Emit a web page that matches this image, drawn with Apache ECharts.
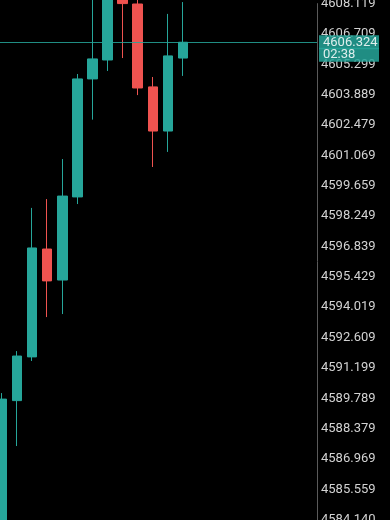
<!DOCTYPE html>
<html><head><meta charset="utf-8">
<script src="https://cdn.jsdelivr.net/npm/echarts@6/dist/echarts.min.js"></script>
<style>html,body{margin:0;padding:0;background:#000}#c{width:390px;height:520px}</style>
</head><body><div id="c"></div>
<script>
// ---- data ----
const slots  = [0, 1, 2, 3, 4, 5, 6, 7, 8, 9, 10, 11, 12];
const opens  = [4583.30, 4589.68, 4591.71, 4596.72, 4595.28, 4599.14, 4604.62, 4605.50, 4608.90, 4608.10, 4604.25, 4602.20, 4605.59];
const closes = [4589.75, 4591.75, 4596.77, 4595.24, 4599.18, 4604.62, 4605.55, 4608.98, 4608.12, 4604.20, 4602.20, 4605.69, 4606.324];
const lows   = [4582.90, 4587.57, 4591.52, 4593.56, 4593.70, 4598.81, 4602.73, 4604.99, 4605.59, 4603.87, 4600.53, 4601.23, 4604.76];
const highs  = [4590.03, 4591.98, 4598.63, 4599.04, 4600.90, 4604.85, 4608.70, 4609.45, 4609.60, 4608.43, 4604.71, 4607.64, 4608.19];
const yTickLabels = ['4584.140','4585.559','4586.969','4588.379','4589.789','4591.199','4592.609','4594.019','4595.429','4596.839','4598.249','4599.659','4601.069','4602.479','4603.889','4605.299','4606.709','4608.119'];
const currentPrice = 4606.324;
const countdown = '02:38';

// ---- axis range ----
const yMin = 4584.149, yMax = 4608.119, yStep = 1.41;
const xMin = -0.126, xMax = 20.881;

const UP = '#26a69a', DOWN = '#ef5350';
const yTickValues = yTickLabels.map(parseFloat);

const candleData = slots.map((s, i) => [s, opens[i], closes[i], lows[i], highs[i]]);

const chart = echarts.init(document.getElementById('c'), null, {renderer: 'canvas'});
chart.setOption({
  animation: false,
  backgroundColor: '#000',
  grid: {left: 0, right: 73, top: 3.6, bottom: 0.3, containLabel: false, outerBoundsMode: 'none'},
  xAxis: {type: 'value', min: xMin, max: xMax, show: false},
  yAxis: {
    type: 'value', position: 'right', min: yMin, max: yMax, interval: yStep, scale: true,
    axisLine: {show: true, onZero: false, lineStyle: {color: '#5a5a5a', width: 1}},
    axisTick: {show: false},
    splitLine: {show: false},
    axisLabel: {
      margin: 4, color: '#d2d2d2', fontFamily: 'Roboto', fontSize: 13,
      showMinLabel: true, showMaxLabel: true, hideOverlap: false,
      formatter: function (v) {
        let best = 0, d = Infinity;
        yTickValues.forEach((t, i) => { const dd = Math.abs(t - v); if (dd < d) { d = dd; best = i; } });
        return yTickLabels[best];
      }
    }
  },
  series: [{
    type: 'candlestick',
    clip: false,
    barWidth: 10,
    dimensions: ['x', 'open', 'close', 'lowest', 'highest'],
    encode: {x: 'x', y: ['open', 'close', 'lowest', 'highest']},
    data: candleData,
    itemStyle: {color: UP, color0: DOWN, borderColor: UP, borderColor0: DOWN, borderWidth: 1},
    markLine: {
      silent: true,
      animation: false,
      symbol: ['none', 'none'],
      lineStyle: {color: UP, width: 1, type: 'solid', opacity: 0.85},
      label: {
        show: true, position: 'end', distance: 2,
        formatter: function () { return '{s| }\n{b|' + currentPrice.toFixed(3) + '}\n{b|' + countdown + '}'; },
        rich: {
          s: {lineHeight: 12.5, height: 12.5, fontSize: 12},
          b: {backgroundColor: UP, color: '#ffffff', fontFamily: 'Roboto', fontSize: 13,
              width: 52, height: 14, lineHeight: 12.5, padding: [0, 4, 0, 4]}
        }
      },
      data: [{yAxis: currentPrice}]
    }
  }]
});
</script>
</body></html>
